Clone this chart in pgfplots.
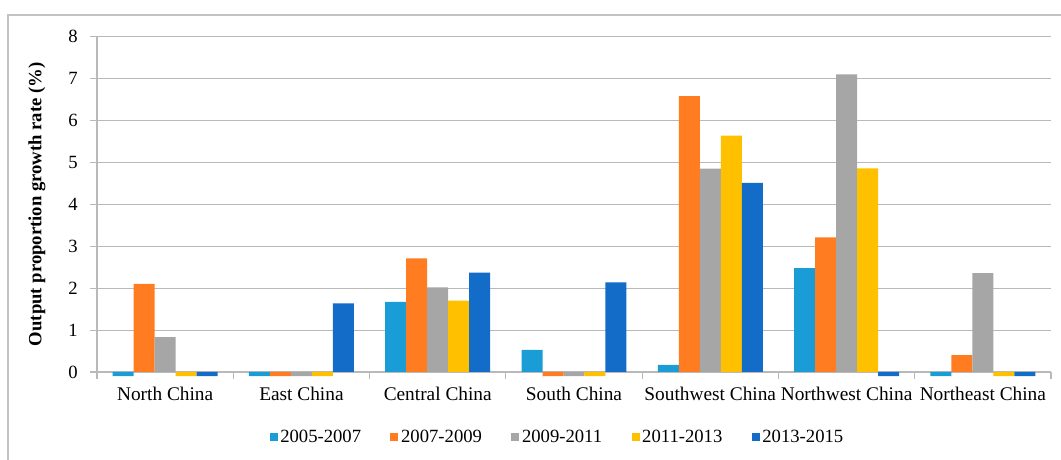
\documentclass[border=0pt]{standalone}
\usepackage{pgfplots}
\pgfplotsset{compat=1.18}
\usepackage{fontspec}
\setmainfont{Liberation Serif}

\definecolor{cA}{RGB}{26,157,215}
\definecolor{cB}{RGB}{255,125,32}
\definecolor{cC}{RGB}{166,166,166}
\definecolor{cD}{RGB}{255,192,0}
\definecolor{cE}{RGB}{18,108,200}
\definecolor{gridgray}{RGB}{185,185,185}
\definecolor{framegray}{RGB}{195,195,195}

\begin{document}
\begin{tikzpicture}
\useasboundingbox (-72.75pt,-66pt) rectangle (723pt,279pt);
% outer chart frame
\draw[framegray, line width=0.8pt] (-66.75pt,-80pt) -- (-66.75pt,267.75pt) -- (740pt,267.75pt);
\begin{axis}[
  at={(0,0)}, anchor=south west,
  scale only axis,
  width=715.5pt, height=251.5pt,
  ybar=0pt, bar width=0.154,
  xmin=-0.5, xmax=6.5,
  ymin=0, ymax=8,
  clip=false,
  axis lines*=left,
  axis line style={gridgray, line width=0.8pt},
  xtick={-0.5,0.5,...,6.5},
  x tick label as interval,
  xticklabels={North China,East China,Central China,South China,Southwest China,Northwest China,Northeast China,{}},
  ytick={0,1,...,8},
  ymajorgrids,
  grid style={gridgray, line width=0.8pt},
  tick style={gridgray, line width=0.8pt},
  tick align=outside,
  major tick length=5pt,
  /pgf/number format/assume math mode=true,
  xticklabel style={font=\fontsize{14.5}{16}\selectfont, text=black, yshift=-3pt},
  yticklabel style={font=\fontsize{14}{15}\selectfont, text=black, xshift=-6pt},
  ylabel={\textbf{Output proportion growth rate (\%)}},
  ylabel style={font=\fontsize{14}{16}\selectfont, at={(axis description cs:-0.063,0.5)}, anchor=center},
  legend columns=5,
  legend style={draw=none, fill=none, at={(axis description cs:0.483,-0.195)}, anchor=center,
    font=\fontsize{14}{16}\selectfont,
    /tikz/every even column/.append style={column sep=20pt}},
  legend image code/.code={\fill[#1] (0pt,-3pt) rectangle (6pt,3pt);},
]
\addplot[fill=cA, draw=none] coordinates {(0,-0.1) (1,-0.1) (2,1.67) (3,0.53) (4,0.17) (5,2.48) (6,-0.1)};
\addplot[fill=cB, draw=none] coordinates {(0,2.10) (1,-0.1) (2,2.71) (3,-0.1) (4,6.58) (5,3.21) (6,0.40)};
\addplot[fill=cC, draw=none] coordinates {(0,0.83) (1,-0.1) (2,2.02) (3,-0.1) (4,4.85) (5,7.10) (6,2.36)};
\addplot[fill=cD, draw=none] coordinates {(0,-0.1) (1,-0.1) (2,1.70) (3,-0.1) (4,5.64) (5,4.86) (6,-0.1)};
\addplot[fill=cE, draw=none] coordinates {(0,-0.1) (1,1.64) (2,2.37) (3,2.14) (4,4.51) (5,-0.1) (6,-0.1)};
\legend{2005-2007,2007-2009,2009-2011,2011-2013,2013-2015}
\end{axis}
\end{tikzpicture}
\end{document}
